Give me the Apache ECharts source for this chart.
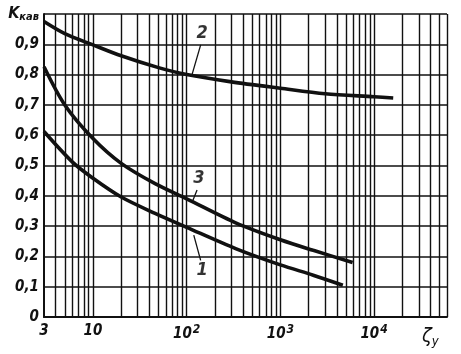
<!DOCTYPE html>
<html>
<head>
<meta charset="utf-8">
<script src="https://cdn.jsdelivr.net/npm/echarts@6/dist/echarts.min.js"></script>
<style>
	html, body { margin: 0; padding: 0; background: #fff; }
	#chart { width: 461px; height: 354px; }
</style>
</head>
<body>
<div id="chart"></div>
<script>
// значения (ось x логарифмическая)
const xMin = 3
const xMax = 60000
const xGridValues = [4, 5, 6, 7, 8, 9, 10, 20, 30, 40, 50, 60, 70, 80, 90, 100,
	200, 300, 400, 500, 600, 700, 800, 900, 1000,
	2000, 3000, 4000, 5000, 6000, 7000, 8000, 9000, 10000,
	20000, 30000, 40000, 50000, 60000]
const xLabelValues = [3, 10, 100, 1000, 10000]
const xLabelTexts = ['3', '10', '10{sup|2}', '10{sup|3}', '10{sup|4}']

const curve1 = [[3, 0.612], [6, 0.512], [10, 0.458], [20, 0.396], [46, 0.342], [100, 0.296],
	[338, 0.225], [1000, 0.172], [2240, 0.138], [4640, 0.105]]
const curve2 = [[3, 0.975], [5, 0.935], [10, 0.898], [20, 0.862], [50, 0.823], [100, 0.800],
	[300, 0.776], [1000, 0.755], [3000, 0.737], [10000, 0.727], [16000, 0.723]]
const curve3 = [[3, 0.826], [5, 0.70], [10, 0.589], [20, 0.507], [46, 0.44], [100, 0.39],
	[338, 0.31], [1000, 0.255], [2240, 0.22], [5900, 0.18]]

const curveNames = [[146, 0.154, '1'], [146, 0.936, '2'], [135, 0.457, '3']]
const leaders = [
	[[141, 0.187], [119, 0.27]],
	[[141, 0.898], [114, 0.80]],
	[[129, 0.419], [114, 0.378]]
]

const font = 'DejaVu Sans Condensed'
const ink = '#111'

let chart = echarts.init(document.getElementById('chart'))

function curveSeries (data) {
	return {
		type: 'line',
		data: data,
		smooth: 0.3,
		symbol: 'none',
		silent: true,
		lineStyle: { color: ink, width: 3.6 },
		z: 5
	}
}

chart.setOption({
	animation: false,
	backgroundColor: '#fff',
	grid: { left: 44, right: 14, top: 14, bottom: 37 },
	xAxis: {
		type: 'log',
		logBase: 10,
		min: xMin,
		max: xMax,
		name: '{z|ζ}{s|y}',
		nameLocation: 'end',
		nameGap: -25,
		nameTextStyle: {
			verticalAlign: 'top',
			padding: [8, 0, 0, 0],
			rich: {
				z: { fontFamily: font, fontSize: 20, fontStyle: 'italic', color: ink },
				s: { fontFamily: font, fontSize: 13, fontStyle: 'italic', color: ink, padding: [10, 0, 0, 0] }
			}
		},
		axisLine: { show: true, lineStyle: { color: ink, width: 2 } },
		axisTick: { show: false },
		splitLine: { show: false },
		axisLabel: {
			customValues: xLabelValues,
			margin: 7,
			fontFamily: font,
			fontStyle: 'italic',
			fontWeight: 'bold',
			fontSize: 15,
			color: ink,
			formatter (value) {
				let i = xLabelValues.findIndex(v => Math.abs(v - value) / v < 1e-6)
				return i >= 0 ? xLabelTexts[i] : ''
			},
			rich: {
				sup: { fontFamily: font, fontStyle: 'italic', fontWeight: 'bold', fontSize: 12, color: ink, padding: [0, 0, 8, 1] }
			}
		}
	},
	yAxis: {
		type: 'value',
		min: 0,
		max: 1,
		interval: 0.1,
		axisLine: { show: true, lineStyle: { color: ink, width: 2 } },
		axisTick: { show: false },
		splitLine: { show: true, lineStyle: { color: ink, width: 1.6 } },
		axisLabel: {
			margin: 5,
			fontFamily: font,
			fontStyle: 'italic',
			fontWeight: 'bold',
			fontSize: 15,
			color: ink,
			formatter (value) {
				if (value >= 0.999) {
					return '{k|K}{s|кав}'
				}
				if (value === 0) {
					return '0'
				}
				return value.toFixed(1).replace('.', ',')
			},
			rich: {
				k: { fontFamily: font, fontStyle: 'italic', fontSize: 16, color: ink },
				s: { fontFamily: font, fontStyle: 'italic', fontWeight: 'bold', fontSize: 11, color: ink, padding: [6, 0, 0, 0] }
			}
		}
	},
	series: [
		{
			// вертикальная сетка
			type: 'line',
			data: [],
			silent: true,
			markLine: {
				silent: true,
				symbol: 'none',
				label: { show: false },
				lineStyle: { color: ink, width: 1.4, type: 'solid' },
				data: xGridValues.map(v => ({ xAxis: v }))
			}
		},
		curveSeries(curve1),
		curveSeries(curve2),
		curveSeries(curve3),
		{
			type: 'lines',
			coordinateSystem: 'cartesian2d',
			silent: true,
			lineStyle: { color: ink, width: 1.3, opacity: 1 },
			data: leaders.map(c => ({ coords: c })),
			z: 6
		},
		{
			type: 'scatter',
			symbolSize: 0,
			silent: true,
			data: curveNames,
			label: {
				show: true,
				position: 'inside',
				formatter: p => p.data[2],
				fontFamily: font,
				fontStyle: 'italic',
				fontWeight: 'bold',
				fontSize: 18,
				color: '#000',
				backgroundColor: '#fff',
				padding: [0, 1]
			},
			z: 7
		}
	]
})
</script>
</body>
</html>
